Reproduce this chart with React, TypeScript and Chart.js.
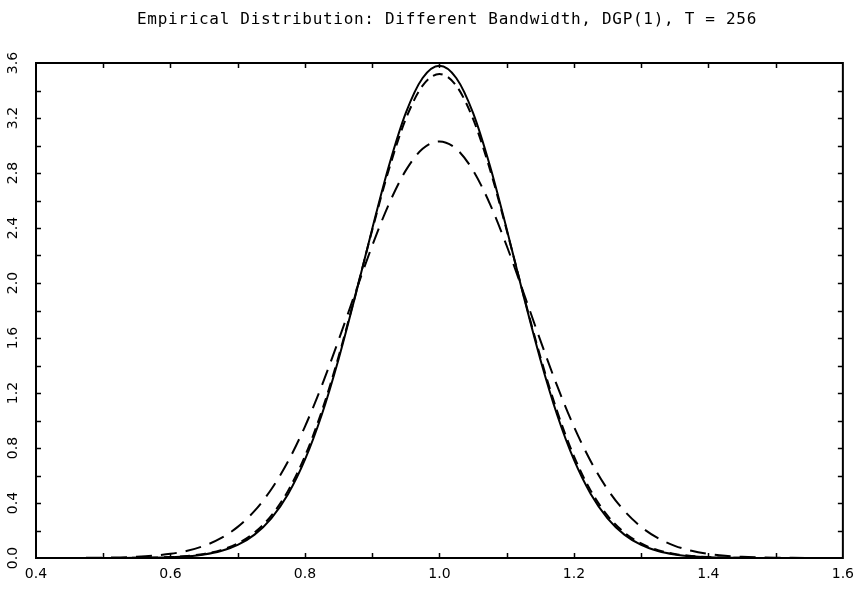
import React, { useEffect, useRef } from "react";
import { Chart, registerables } from "chart.js";

Chart.register(...registerables);

const TITLE = "Empirical Distribution: Different Bandwidth, DGP(1), T = 256";

const xValues = [
  0.4, 0.425, 0.45, 0.475, 0.5, 0.525, 0.55, 0.575, 0.6, 0.625, 0.65, 0.675, 0.7,
  0.725, 0.75, 0.775, 0.8, 0.825, 0.85, 0.875, 0.9, 0.925, 0.95, 0.975, 1.0,
  1.025, 1.05, 1.075, 1.1, 1.125, 1.15, 1.175, 1.2, 1.225, 1.25, 1.275, 1.3,
  1.325, 1.35, 1.375, 1.4, 1.425, 1.45, 1.475, 1.5, 1.525, 1.55, 1.575, 1.6,
];

const solidSeries = [
  0, 0, 0, 0.0001, 0.0002, 0.0004, 0.001, 0.0025, 0.0057, 0.0124, 0.0257, 0.0508, 0.0953,
  0.17, 0.289, 0.466, 0.715, 1.042, 1.446, 1.908, 2.393, 2.854, 3.237, 3.491, 3.58,
  3.491, 3.237, 2.854, 2.393, 1.908, 1.446, 1.042, 0.715, 0.466, 0.289, 0.17, 0.0953,
  0.0508, 0.0257, 0.0124, 0.0057, 0.0025, 0.001, 0.0004, 0.0002, 0.0001, 0, 0, 0,
];

const mediumDashSeries = [
  0, 0, 0, 0.0001, 0.0002, 0.0005, 0.0013, 0.0031, 0.0069, 0.0147, 0.0298, 0.0575, 0.1057,
  0.185, 0.3085, 0.49, 0.741, 1.068, 1.465, 1.915, 2.384, 2.828, 3.193, 3.435, 3.52,
  3.435, 3.193, 2.828, 2.384, 1.915, 1.465, 1.068, 0.741, 0.49, 0.3085, 0.185, 0.1057,
  0.0575, 0.0298, 0.0147, 0.0069, 0.0031, 0.0013, 0.0005, 0.0002, 0.0001, 0, 0, 0,
];

const longDashSeries = [
  0.0001, 0.0002, 0.0005, 0.0011, 0.0022, 0.0045, 0.0088, 0.0166, 0.0301, 0.0526, 0.0886,
  0.1442, 0.2263, 0.3425, 0.5, 0.704, 0.956, 1.253, 1.584, 1.931, 2.271, 2.576, 2.819,
  2.976, 3.03, 2.976, 2.819, 2.576, 2.271, 1.931, 1.584, 1.253, 0.956, 0.704, 0.5,
  0.3425, 0.2263, 0.1442, 0.0886, 0.0526, 0.0301, 0.0166, 0.0088, 0.0045, 0.0022,
  0.0011, 0.0005, 0.0002, 0.0001,
];

const xTickLabels = ["0.4", "0.6", "0.8", "1.0", "1.2", "1.4", "1.6"];
const xMinorTickValues = [0.5, 0.6, 0.7, 0.8, 0.9, 1.0, 1.1, 1.2, 1.3, 1.4, 1.5];
const yTickValues = [0, 0.4, 0.8, 1.2, 1.6, 2.0, 2.4, 2.8, 3.2, 3.6];
const yTickLabels = ["0.0", "0.4", "0.8", "1.2", "1.6", "2.0", "2.4", "2.8", "3.2", "3.6"];
const yMinorTickValues = [0.2, 0.4, 0.6, 0.8, 1.0, 1.2, 1.4, 1.6, 1.8, 2.0, 2.2, 2.4, 2.6, 2.8, 3.0, 3.2, 3.4];

const FONT = "DejaVu Sans";
const TITLE_FONT = "DejaVu Sans Mono";

const framePlugin = {
  id: "frameTicks",
  afterDraw(chart: any) {
    const { ctx, chartArea, scales } = chart;
    const { left, right, top, bottom } = chartArea;
    const x = scales.x;
    const y = scales.y;
    ctx.save();
    ctx.strokeStyle = "#000";
    ctx.lineWidth = 2;
    ctx.strokeRect(left, top, right - left, bottom - top);
    ctx.lineWidth = 1.5;
    const tick = 5;
    ctx.beginPath();
    for (const v of xMinorTickValues) {
      const px = Math.round(x.getPixelForValue(v)) + 0.5;
      ctx.moveTo(px, bottom);
      ctx.lineTo(px, bottom - tick);
      ctx.moveTo(px, top);
      ctx.lineTo(px, top + tick);
    }
    for (const v of yMinorTickValues) {
      const py = Math.round(y.getPixelForValue(v)) + 0.5;
      ctx.moveTo(left, py);
      ctx.lineTo(left + tick, py);
      ctx.moveTo(right, py);
      ctx.lineTo(right - tick, py);
    }
    ctx.stroke();
    ctx.fillStyle = "#000";
    ctx.font = `14px "${FONT}"`;
    ctx.textAlign = "center";
    ctx.textBaseline = "middle";
    yTickValues.forEach((v, i) => {
      const py = y.getPixelForValue(v);
      ctx.save();
      ctx.translate(13, py);
      ctx.rotate(-Math.PI / 2);
      ctx.fillText(yTickLabels[i], 0, 0);
      ctx.restore();
    });
    // title
    ctx.font = `16px "${TITLE_FONT}"`;
    try {
      (ctx as any).letterSpacing = "0.7px";
    } catch (e) {}
    ctx.textAlign = "center";
    ctx.textBaseline = "middle";
    ctx.fillText(TITLE, 447, 20);
    ctx.restore();
  },
};

export default function App() {
  const canvasRef = useRef<HTMLCanvasElement | null>(null);

  useEffect(() => {
    const canvas = canvasRef.current;
    if (!canvas) return;
    const toPoints = (ys: number[]) => xValues.map((xv, i) => ({ x: xv, y: ys[i] }));
    const chart = new Chart(canvas, {
      type: "line",
      data: {
        datasets: [
          {
            label: "solid",
            data: toPoints(solidSeries),
            borderColor: "#000",
            borderWidth: 2,
            pointRadius: 0,
            fill: false,
            cubicInterpolationMode: "monotone",
          },
          {
            label: "medium dash",
            data: toPoints(mediumDashSeries),
            borderColor: "#000",
            borderWidth: 2,
            borderDash: [10, 6],
            pointRadius: 0,
            fill: false,
            cubicInterpolationMode: "monotone",
          },
          {
            label: "long dash",
            data: toPoints(longDashSeries),
            borderColor: "#000",
            borderWidth: 2,
            borderDash: [16, 9],
            pointRadius: 0,
            fill: false,
            cubicInterpolationMode: "monotone",
          },
        ],
      },
      options: {
        animation: false,
        responsive: false,
        devicePixelRatio: 1,
        layout: { padding: { left: 0, right: 10, top: 63, bottom: 0 } },
        plugins: {
          legend: { display: false },
          tooltip: { enabled: false },
          title: { display: false },
        },
        scales: {
          x: {
            type: "linear",
            min: 0.4,
            max: 1.6,
            ticks: {
              stepSize: 0.2,
              color: "#000",
              font: { family: FONT, size: 14 },
              padding: 8,
              maxRotation: 0,
              callback: (_v: any, i: number) => xTickLabels[i],
            },
            grid: { display: false, drawTicks: false },
            border: { display: false },
            afterFit: (s: any) => {
              s.height = 32;
            },
          },
          y: {
            type: "linear",
            min: 0,
            max: 3.6,
            ticks: { display: false },
            grid: { display: false, drawTicks: false },
            border: { display: false },
            afterFit: (s: any) => {
              s.width = 36;
            },
          },
        },
      },
      plugins: [framePlugin],
    });
    return () => chart.destroy();
  }, []);

  return (
    <div
      style={{
        position: "fixed",
        left: 0,
        top: 0,
        width: 862,
        height: 590,
        background: "#fff",
      }}
    >
      <canvas ref={canvasRef} width={862} height={590} />
    </div>
  );
}
